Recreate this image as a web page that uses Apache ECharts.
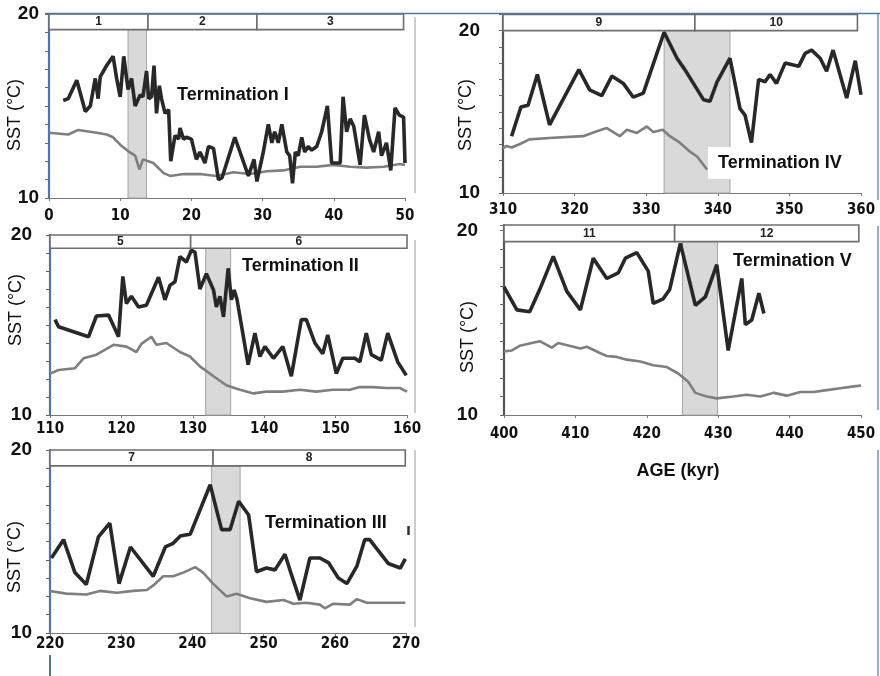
<!DOCTYPE html>
<html>
<head>
<meta charset="utf-8">
<script src="https://cdn.jsdelivr.net/npm/echarts@6/dist/echarts.min.js"></script>
<style>
  html, body { margin: 0; padding: 0; background: #fff; }
  #chart { width: 880px; height: 676px; }
</style>
</head>
<body>
<div id="chart"></div>
<script>
// ---- Termination I (0–50 kyr) ----
const t1Dark = [[2.0,15.3],[2.7,15.4],[3.9,16.4],[5.1,14.7],[5.8,15.0],[6.5,16.5],[6.9,15.4],[7.2,16.6],[8.1,17.2],[9.0,17.7],[9.5,16.5],[10.0,15.5],[10.5,17.7],[11.1,15.9],[11.6,16.5],[12.1,15.0],[12.8,15.6],[13.2,15.5],[13.7,16.9],[14.0,15.4],[14.4,15.5],[14.75,17.2],[15.1,14.6],[15.5,16.1],[15.8,15.4],[16.3,14.6],[16.8,14.8],[17.1,12.0],[17.7,13.4],[18.2,13.2],[18.4,13.8],[18.9,13.2],[19.3,13.3],[20.0,13.2],[20.7,12.1],[21.2,12.5],[21.9,11.9],[22.4,12.8],[23.1,12.7],[23.8,11.0],[24.3,11.1],[26.1,13.3],[28.0,11.2],[28.8,12.1],[29.2,10.9],[30.1,12.5],[30.8,14.0],[31.3,13.0],[31.7,13.6],[32.2,13.0],[32.7,14.0],[33.4,12.5],[33.8,12.3],[34.2,10.8],[34.6,12.5],[35.0,12.3],[35.5,13.3],[35.9,12.5],[36.4,12.8],[36.9,12.6],[37.6,12.8],[38.3,13.6],[39.1,15.0],[39.7,11.9],[40.9,11.9],[41.3,15.5],[41.8,13.6],[42.3,14.3],[42.8,13.9],[43.7,11.8],[44.3,14.5],[45.0,13.2],[45.6,12.5],[46.3,13.6],[46.7,12.3],[47.4,13.0],[48.0,11.5],[48.6,14.9],[49.2,14.5],[49.8,14.4],[50.0,11.9]];
const t1Grey = [[0,13.55],[2.7,13.45],[4.1,13.7],[6.7,13.55],[8.1,13.45],[9.0,13.3],[10.0,12.9],[11.1,12.55],[12.1,12.3],[12.7,11.55],[13.2,12.1],[14.65,11.9],[16.1,11.35],[17.0,11.2],[18.9,11.3],[21.2,11.3],[23.5,11.2],[25.9,11.4],[28.2,11.3],[30.6,11.45],[32.9,11.5],[35.3,11.7],[37.6,11.7],[39.9,11.8],[42.3,11.7],[44.6,11.65],[47.0,11.7],[49.3,11.85],[50.0,11.8]];
const t1Band = [11.1, 13.7];
const t1Stages = [[0, 13.9, '1'], [13.9, 29.2, '2'], [29.2, 49.8, '3']];

// ---- Termination II (110–160 kyr) ----
const t2Dark = [[110.7,15.3],[111.2,14.9],[115.4,14.35],[116.5,15.5],[118.2,15.55],[119.6,14.35],[120.2,17.7],[120.7,16.2],[121.4,16.6],[122.4,16.0],[123.5,16.1],[125.2,17.65],[126.1,16.4],[126.8,17.2],[127.5,17.4],[128.2,18.8],[129.1,18.5],[129.8,19.15],[130.3,19.05],[131.0,17.0],[131.9,17.85],[132.9,16.95],[133.3,16.0],[133.8,16.6],[134.3,15.45],[134.95,18.15],[135.4,16.4],[135.8,16.95],[136.2,16.4],[137.75,12.8],[138.7,14.55],[139.4,13.25],[140.1,13.8],[141.3,13.15],[142.6,13.8],[143.8,12.15],[145.2,15.3],[145.9,15.3],[147.1,14.0],[148.2,13.4],[148.9,14.45],[150.1,12.3],[151.0,13.15],[152.7,13.15],[153.4,12.95],[154.3,14.55],[155.0,13.35],[156.4,13.05],[157.3,14.55],[158.7,12.95],[159.9,12.2]];
const t2Grey = [[110,12.3],[111.2,12.5],[113.5,12.6],[114.7,13.15],[116.5,13.35],[118.9,13.9],[120.7,13.8],[122.1,13.5],[122.8,13.95],[124.2,14.35],[124.9,13.9],[126.3,14.0],[128.2,13.5],[129.6,13.25],[131.0,12.7],[132.9,12.15],[134.7,11.65],[136.6,11.4],[138.5,11.2],[140.3,11.3],[142.6,11.3],[145.0,11.4],[147.3,11.3],[149.6,11.4],[152.0,11.4],[153.4,11.55],[155.2,11.55],[157.1,11.5],[159.0,11.5],[160.0,11.3]];
const t2Band = [131.8, 135.3];
const t2Stages = [[110, 129.7, '5'], [129.7, 160, '6']];

// ---- Termination III (220–270 kyr) ----
const t3Dark = [[220.2,14.1],[221.9,15.1],[223.5,13.3],[225.1,12.65],[226.8,15.25],[228.4,16.0],[229.7,12.7],[231.3,14.7],[234.5,13.1],[236.2,14.7],[237.3,14.9],[238.3,15.3],[239.0,15.35],[239.7,15.4],[242.5,18.1],[244.1,15.65],[245.3,15.65],[246.5,17.2],[247.9,16.45],[249.0,13.35],[250.4,13.55],[251.6,13.45],[253.0,14.3],[253.9,13.2],[255.1,11.8],[256.5,14.1],[257.9,14.1],[259.1,13.85],[260.5,13.0],[261.7,12.7],[263.1,13.65],[264.2,15.1],[264.9,15.1],[267.5,13.8],[269.2,13.55],[269.9,14.05]];
const t3Grey = [[220,12.3],[222.3,12.15],[225.1,12.1],[227.0,12.3],[229.4,12.2],[231.7,12.3],[233.6,12.35],[234.5,12.6],[235.9,13.1],[237.3,13.1],[238.7,13.3],[240.4,13.6],[241.5,13.3],[242.9,12.7],[244.8,12.0],[246.2,12.15],[248.1,11.9],[250.4,11.7],[252.8,11.8],[254.2,11.6],[256.0,11.65],[257.9,11.55],[258.6,11.35],[259.8,11.6],[262.1,11.55],[263.1,11.85],[264.5,11.65],[266.8,11.65],[269.9,11.65]];
const t3Band = [242.7, 246.7];
const t3Stages = [[220, 242.9, '7'], [242.9, 269.9, '8']];

// ---- Termination IV (310–360 kyr) ----
const t4Dark = [[311.2,13.5],[312.5,15.3],[313.5,15.4],[314.8,17.3],[316.5,14.2],[319.1,16.35],[320.6,17.6],[322.1,16.35],[323.8,16.0],[325.2,17.2],[326.8,16.75],[328.2,15.9],[329.6,16.15],[332.5,19.9],[334.3,18.3],[335.4,17.6],[338.0,15.75],[338.9,15.65],[339.9,16.85],[341.7,18.3],[343.1,15.2],[343.8,14.8],[344.7,13.1],[345.7,17.0],[346.6,16.85],[347.3,17.3],[348.2,16.75],[349.4,18.0],[351.3,17.8],[352.2,18.6],[353.1,18.8],[354.3,18.3],[355.2,17.5],[356.1,18.8],[358.0,15.85],[359.2,18.15],[360.0,16.05]];
const t4Grey = [[310,12.75],[310.5,12.9],[311.2,12.8],[312.3,13.0],[313.7,13.3],[317.0,13.4],[321.2,13.5],[323.1,13.8],[324.5,14.0],[326.3,13.5],[327.3,13.9],[328.7,13.7],[330.1,14.1],[331.0,13.75],[332.3,13.9],[333.3,13.5],[334.7,13.1],[336.1,12.55],[337.1,12.25],[338.5,11.45]];
const t4Band = [332.5, 341.7];
const t4Stages = [[310, 336.8, '9'], [336.8, 359.5, '10']];

// ---- Termination V (400–450 kyr) ----
const t5Dark = [[400,16.95],[401.8,15.7],[403.6,15.6],[405.0,16.8],[406.9,18.6],[408.8,16.7],[410.7,15.7],[412.5,18.5],[414.4,17.4],[416.0,17.7],[417.0,18.5],[418.6,18.8],[420.2,17.8],[420.9,16.05],[422.3,16.3],[423.2,16.8],[424.7,19.3],[426.8,15.95],[428.2,16.4],[429.8,18.15],[431.4,13.5],[433.3,17.4],[433.8,14.9],[434.7,15.15],[435.7,16.6],[436.4,15.5]];
const t5Grey = [[400,13.45],[401.1,13.5],[402.2,13.75],[405.0,14.0],[406.7,13.65],[407.6,13.9],[409.7,13.7],[410.7,13.6],[411.6,13.7],[413.5,13.35],[414.4,13.2],[415.8,13.15],[417.2,13.0],[419.1,12.9],[420.9,12.7],[422.8,12.6],[424.4,12.25],[425.8,11.8],[426.8,11.2],[428.4,11.0],[429.8,10.9],[432.1,11.0],[434.0,11.1],[435.9,11.0],[437.8,11.2],[439.6,11.05],[441.5,11.25],[443.4,11.25],[445.2,11.35],[447.1,11.45],[449.0,11.55],[450.0,11.6]];
const t5Band = [425.0, 429.9];
const t5Stages = [[400, 423.9, '11'], [423.9, 449.7, '12']];

const yTickLabels = [10, 20];
const xRanges = [[0, 50], [110, 160], [220, 270], [310, 360], [400, 450]];

const BLUE = '#4f76ab';
const TICK_FONT = "'Liberation Sans Narrow', 'DejaVu Sans Condensed', 'Liberation Sans', Arial, sans-serif";
const FONT = "'Liberation Sans', Arial, Helvetica, sans-serif";

// panel layout: grid box, top of y range, lower edge of the stage bar, label margins
const panels = [
  { grid: { left: 49, right: 475, top: 14, bottom: 478 }, yMax: 20, boxLow: 19.15, yMargin: 10, xMargin: 11, axisColor: BLUE,
    dark: t1Dark, grey: t1Grey, band: t1Band, stages: t1Stages, range: xRanges[0] },
  { grid: { left: 50, right: 473, top: 235, bottom: 261 }, yMax: 20, boxLow: 19.26, yMargin: 18, xMargin: 7, axisColor: BLUE,
    dark: t2Dark, grey: t2Grey, band: t2Band, stages: t2Stages, range: xRanges[1] },
  { grid: { left: 50, right: 474, top: 450, bottom: 43 }, yMax: 20, boxLow: 19.13, yMargin: 18, xMargin: 4, axisColor: BLUE,
    dark: t3Dark, grey: t3Grey, band: t3Band, stages: t3Stages, range: xRanges[2] },
  { grid: { left: 503, right: 19, top: 14.4, bottom: 483 }, yMax: 21, boxLow: 20, yMargin: 23, xMargin: 10, axisColor: '#555',
    dark: t4Dark, grey: t4Grey, band: t4Band, stages: t4Stages, range: xRanges[3] },
  { grid: { left: 504, right: 19, top: 225, bottom: 261 }, yMax: 20.3, boxLow: 19.4, yMargin: 26, xMargin: 12, axisColor: '#555',
    dark: t5Dark, grey: t5Grey, band: t5Band, stages: t5Stages, range: xRanges[4] }
];

const grids = [], xAxes = [], yAxes = [], series = [];

panels.forEach((p, i) => {
  grids.push(Object.assign({ containLabel: false }, p.grid));
  xAxes.push({
    type: 'value', gridIndex: i, min: p.range[0], max: p.range[1], interval: 10,
    axisLine: { lineStyle: { color: '#777', width: 1.2 } },
    axisTick: { show: true, length: 3, lineStyle: { color: '#777' } },
    splitLine: { show: false },
    axisLabel: { margin: p.xMargin, color: '#111', fontFamily: TICK_FONT, fontWeight: 'bold', fontSize: 15 }
  });
  yAxes.push({
    type: 'value', gridIndex: i, min: 10, max: p.yMax, interval: 1,
    axisLine: { show: true, lineStyle: { color: p.axisColor, width: 2.2 } },
    axisTick: { show: true, length: 4, lineStyle: { color: '#666', width: 1 } },
    splitLine: { show: false },
    axisLabel: {
      margin: p.yMargin, color: '#111', fontFamily: FONT, fontWeight: 'bold', fontSize: 19,
      formatter: v => (yTickLabels.indexOf(v) >= 0 ? String(v) : '')
    }
  });

  // termination shading
  series.push({
    type: 'line', xAxisIndex: i, yAxisIndex: i, data: [], z: 1, silent: true,
    markArea: {
      silent: true,
      itemStyle: { color: '#d9d9d9', borderColor: '#a5a5a5', borderWidth: 1 },
      data: [[{ xAxis: p.band[0], yAxis: 10 }, { xAxis: p.band[1], yAxis: p.boxLow }]]
    }
  });

  // marine isotope stage bar
  series.push({
    type: 'custom', xAxisIndex: i, yAxisIndex: i, z: 4, clip: false, silent: true,
    data: p.stages.map(s => [s[0], s[1]]),
    renderItem: (params, api) => {
      const a = api.coord([api.value(0), p.yMax]);
      const b = api.coord([api.value(1), p.boxLow]);
      return {
        type: 'group',
        children: [
          { type: 'rect', shape: { x: a[0], y: a[1], width: b[0] - a[0], height: b[1] - a[1] },
            style: { fill: '#fff', stroke: '#6e6e6e', lineWidth: 1.6 } },
          { type: 'text', x: (a[0] + b[0]) / 2, y: (a[1] + b[1]) / 2,
            style: { text: p.stages[params.dataIndex][2], fill: '#222', font: "bold 12px " + FONT,
                     align: 'center', verticalAlign: 'middle' } }
        ]
      };
    }
  });

  series.push({
    type: 'line', xAxisIndex: i, yAxisIndex: i, data: p.grey, z: 2,
    showSymbol: false, symbol: 'none', silent: true,
    lineStyle: { color: '#7f7f7f', width: 2.6 }
  });
  series.push({
    type: 'line', xAxisIndex: i, yAxisIndex: i, data: p.dark, z: 3,
    showSymbol: false, symbol: 'none', silent: true,
    lineStyle: { color: '#282828', width: 3.6 }
  });
});

function sstLabel(x, y) {
  return { type: 'text', x: x, y: y, rotation: Math.PI / 2, z: 10,
    style: { text: 'SST (°C)', fill: '#111', font: '18px ' + FONT, align: 'center', verticalAlign: 'middle' } };
}
function termLabel(x, y, text, bg) {
  const el = { type: 'text', x: x, y: y, z: 10,
    style: { text: text, fill: '#111', font: 'bold 18px ' + FONT, align: 'left', verticalAlign: 'middle' } };
  if (bg) { el.style.backgroundColor = '#fff'; el.style.padding = [7, 6, 7, 10]; }
  return el;
}
function rule(x1, y1, x2, y2, color, w) {
  return { type: 'line', z: 9, shape: { x1: x1, y1: y1, x2: x2, y2: y2 }, style: { stroke: color, lineWidth: w } };
}

const graphic = [
  // figure frame pieces
  rule(45, 13.5, 880, 13.5, BLUE, 1.6),
  rule(878, 13, 878, 200, BLUE, 1.2),
  rule(878, 226, 878, 410, BLUE, 1.2),
  rule(878, 450, 878, 676, BLUE, 1.2),
  rule(50, 655, 50, 676, BLUE, 2),
  rule(415, 17, 415, 193, '#9a9a9a', 1),
  rule(415, 240, 415, 413, '#9a9a9a', 1),
  rule(415, 450, 415, 627, '#9a9a9a', 1),
  rule(408.5, 526, 408.5, 535, '#333', 2.5),
  sstLabel(15, 115), sstLabel(466, 115),
  sstLabel(16, 310), sstLabel(468, 337),
  sstLabel(15, 557),
  termLabel(177, 95, 'Termination I'),
  termLabel(242, 266, 'Termination II'),
  termLabel(265, 523, 'Termination III'),
  termLabel(708, 163, 'Termination IV', true),
  termLabel(733, 261, 'Termination V'),
  { type: 'text', x: 678, y: 471, z: 10,
    style: { text: 'AGE (kyr)', fill: '#111', font: 'bold 18px ' + FONT, align: 'center', verticalAlign: 'middle' } }
];

const chart = echarts.init(document.getElementById('chart'), null, { renderer: 'canvas' });
chart.setOption({
  animation: false,
  backgroundColor: '#fff',
  grid: grids, xAxis: xAxes, yAxis: yAxes, series: series,
  graphic: graphic
});
</script>
</body>
</html>
